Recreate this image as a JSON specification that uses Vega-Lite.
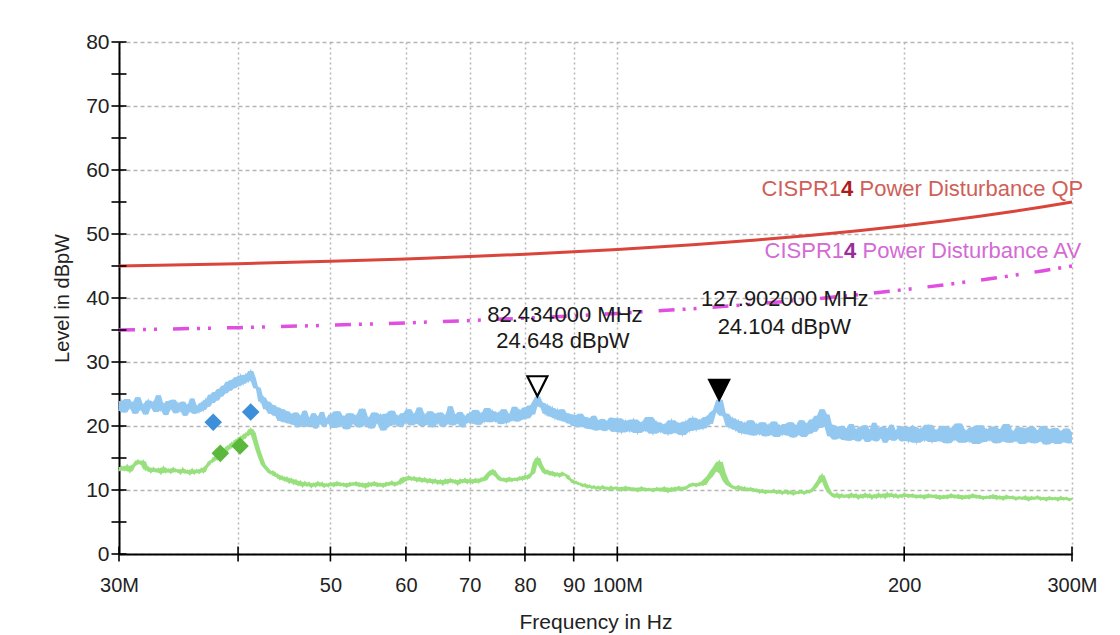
{
"$schema": "https://vega.github.io/schema/vega-lite/v6.json",
"width": 953, "height": 512,
"autosize": {"type": "none"},
"padding": {"left": 119, "top": 42, "right": 48, "bottom": 81},
"background": "white",
"config": {"view": {"stroke": null}, "font": "Liberation Sans", "text": {"font": "Liberation Sans"}},
"datasets": {
"limits": [
{"f":30,"qp":45.0,"avl":35.0},{"f":40,"qp":45.37,"avl":35.37},{"f":50,"qp":45.74,"avl":35.74},{"f":60,"qp":46.11,"avl":36.11},{"f":70,"qp":46.48,"avl":36.48},{"f":80,"qp":46.85,"avl":36.85},{"f":90,"qp":47.22,"avl":37.22},{"f":100,"qp":47.59,"avl":37.59},{"f":120,"qp":48.33,"avl":38.33},{"f":140,"qp":49.07,"avl":39.07},{"f":160,"qp":49.81,"avl":39.81},{"f":180,"qp":50.56,"avl":40.56},{"f":200,"qp":51.3,"avl":41.3},{"f":220,"qp":52.04,"avl":42.04},{"f":240,"qp":52.78,"avl":42.78},{"f":260,"qp":53.52,"avl":43.52},{"f":280,"qp":54.26,"avl":44.26},{"f":300,"qp":55.0,"avl":45.0}
],
"xt": [{"v":30},{"v":40},{"v":50},{"v":60},{"v":70},{"v":80},{"v":90},{"v":100},{"v":200},{"v":300}],
"yt": [{"v":0},{"v":5},{"v":10},{"v":15},{"v":20},{"v":25},{"v":30},{"v":35},{"v":40},{"v":45},{"v":50},{"v":55},{"v":60},{"v":65},{"v":70},{"v":75},{"v":80}],
"trace": [
{"f":30.0,"pk":22.4,"av":13.0},{"f":30.2,"pk":23.9,"av":13.6},{"f":30.4,"pk":22.1,"av":13.1},{"f":30.6,"pk":24.2,"av":13.8},{"f":30.8,"pk":22.8,"av":12.9},{"f":31.0,"pk":23.6,"av":13.7},{"f":31.2,"pk":21.9,"av":14.0},{"f":31.4,"pk":24.5,"av":14.6},{"f":31.6,"pk":22.6,"av":14.1},{"f":31.8,"pk":23.3,"av":14.5},
{"f":32.0,"pk":21.8,"av":13.2},{"f":32.2,"pk":24.0,"av":13.5},{"f":32.4,"pk":22.9,"av":12.8},{"f":32.6,"pk":23.7,"av":13.4},{"f":32.8,"pk":22.2,"av":12.9},{"f":33.0,"pk":24.8,"av":13.3},{"f":33.2,"pk":22.5,"av":12.6},{"f":33.4,"pk":23.4,"av":13.5},{"f":33.6,"pk":21.7,"av":12.8},{"f":33.8,"pk":23.9,"av":13.2},
{"f":34.0,"pk":22.7,"av":12.7},{"f":34.2,"pk":24.1,"av":13.4},{"f":34.4,"pk":22.0,"av":12.9},{"f":34.6,"pk":23.5,"av":13.1},{"f":34.8,"pk":22.4,"av":12.6},{"f":35.0,"pk":23.8,"av":13.3},{"f":35.2,"pk":21.6,"av":12.7},{"f":35.4,"pk":23.2,"av":13.0},{"f":35.6,"pk":22.3,"av":12.5},{"f":35.8,"pk":24.3,"av":13.2},
{"f":36.0,"pk":21.9,"av":12.6},{"f":36.2,"pk":23.1,"av":13.1},{"f":36.4,"pk":22.2,"av":12.7},{"f":36.6,"pk":23.6,"av":13.3},{"f":36.8,"pk":22.5,"av":12.8},{"f":37.0,"pk":24.1,"av":13.6},{"f":37.2,"pk":23.0,"av":13.9},{"f":37.4,"pk":24.9,"av":14.5},{"f":37.6,"pk":23.6,"av":14.4},{"f":37.8,"pk":25.3,"av":15.1},
{"f":38.0,"pk":24.0,"av":14.8},{"f":38.2,"pk":25.8,"av":15.6},{"f":38.4,"pk":24.6,"av":15.4},{"f":38.6,"pk":26.3,"av":16.2},{"f":38.8,"pk":25.1,"av":15.9},{"f":39.0,"pk":26.9,"av":16.8},{"f":39.2,"pk":25.5,"av":16.5},{"f":39.4,"pk":27.2,"av":17.3},{"f":39.6,"pk":25.9,"av":17.0},{"f":39.8,"pk":27.6,"av":17.8},
{"f":40.0,"pk":26.2,"av":17.6},{"f":40.25,"pk":27.9,"av":18.3},{"f":40.5,"pk":26.6,"av":18.0},{"f":40.75,"pk":28.0,"av":18.8},{"f":41.0,"pk":27.0,"av":18.6},{"f":41.25,"pk":28.6,"av":19.5},{"f":41.5,"pk":27.5,"av":18.9},{"f":41.75,"pk":25.9,"av":17.4},{"f":42.0,"pk":26.0,"av":16.1},{"f":42.25,"pk":23.8,"av":15.0},
{"f":42.5,"pk":24.5,"av":14.0},{"f":42.75,"pk":22.6,"av":13.5},{"f":43.0,"pk":23.8,"av":13.1},{"f":43.25,"pk":21.9,"av":12.6},{"f":43.5,"pk":23.3,"av":12.9},{"f":43.75,"pk":21.6,"av":12.2},{"f":44.0,"pk":22.9,"av":12.4},{"f":44.25,"pk":20.8,"av":11.7},{"f":44.5,"pk":22.6,"av":12.1},{"f":44.75,"pk":20.6,"av":11.5},
{"f":45.0,"pk":22.3,"av":11.9},{"f":45.25,"pk":20.4,"av":11.2},{"f":45.5,"pk":21.9,"av":11.7},{"f":45.75,"pk":20.2,"av":11.0},{"f":46.0,"pk":22.1,"av":11.5},{"f":46.25,"pk":19.8,"av":10.8},{"f":46.5,"pk":21.6,"av":11.3},{"f":46.75,"pk":20.1,"av":10.6},{"f":47.0,"pk":22.4,"av":11.2},{"f":47.25,"pk":19.9,"av":10.7},
{"f":47.5,"pk":21.3,"av":11.1},{"f":47.75,"pk":20.0,"av":10.5},{"f":48.0,"pk":22.0,"av":11.0},{"f":48.25,"pk":19.6,"av":10.6},{"f":48.5,"pk":21.5,"av":11.2},{"f":48.75,"pk":20.3,"av":10.7},{"f":49.0,"pk":22.2,"av":11.1},{"f":49.25,"pk":19.9,"av":10.5},{"f":49.5,"pk":21.1,"av":10.9},{"f":49.75,"pk":20.5,"av":10.6},
{"f":50.0,"pk":21.8,"av":11.1},{"f":50.4,"pk":19.7,"av":10.6},{"f":50.8,"pk":22.3,"av":11.2},{"f":51.2,"pk":20.1,"av":10.7},{"f":51.6,"pk":21.4,"av":11.0},{"f":52.0,"pk":19.5,"av":10.5},{"f":52.4,"pk":22.0,"av":11.1},{"f":52.8,"pk":20.4,"av":10.8},{"f":53.2,"pk":21.6,"av":11.2},{"f":53.6,"pk":19.8,"av":10.6},
{"f":54.0,"pk":22.7,"av":11.0},{"f":54.4,"pk":20.2,"av":10.4},{"f":54.8,"pk":21.2,"av":11.1},{"f":55.2,"pk":19.6,"av":10.7},{"f":55.6,"pk":22.1,"av":11.2},{"f":56.0,"pk":20.5,"av":10.6},{"f":56.4,"pk":21.7,"av":11.0},{"f":56.8,"pk":19.3,"av":10.5},{"f":57.2,"pk":21.9,"av":11.1},{"f":57.6,"pk":20.0,"av":10.8},
{"f":58.0,"pk":22.4,"av":11.3},{"f":58.4,"pk":20.3,"av":10.7},{"f":58.8,"pk":21.5,"av":11.2},{"f":59.2,"pk":19.9,"av":11.0},{"f":59.6,"pk":22.0,"av":11.9},{"f":60.0,"pk":20.6,"av":11.5},{"f":60.4,"pk":22.6,"av":12.1},{"f":60.8,"pk":20.1,"av":11.6},{"f":61.2,"pk":21.8,"av":12.0},{"f":61.6,"pk":20.4,"av":11.4},
{"f":62.0,"pk":22.9,"av":11.9},{"f":62.4,"pk":20.0,"av":11.3},{"f":62.8,"pk":21.7,"av":11.8},{"f":63.2,"pk":20.2,"av":11.2},{"f":63.6,"pk":22.3,"av":11.7},{"f":64.0,"pk":19.8,"av":11.1},{"f":64.4,"pk":21.9,"av":11.6},{"f":64.8,"pk":20.5,"av":11.0},{"f":65.2,"pk":22.1,"av":11.5},{"f":65.6,"pk":19.9,"av":10.9},
{"f":66.0,"pk":21.6,"av":11.6},{"f":66.4,"pk":20.3,"av":11.1},{"f":66.8,"pk":23.1,"av":11.7},{"f":67.2,"pk":20.1,"av":11.2},{"f":67.6,"pk":21.8,"av":11.5},{"f":68.0,"pk":20.4,"av":10.9},{"f":68.4,"pk":22.2,"av":11.6},{"f":68.8,"pk":19.8,"av":11.2},{"f":69.2,"pk":21.5,"av":11.7},{"f":69.6,"pk":20.6,"av":11.1},
{"f":70.0,"pk":22.0,"av":11.6},{"f":70.5,"pk":20.4,"av":11.1},{"f":71.0,"pk":22.5,"av":11.7},{"f":71.5,"pk":20.2,"av":11.2},{"f":72.0,"pk":21.9,"av":11.8},{"f":72.5,"pk":20.7,"av":11.5},{"f":73.0,"pk":22.8,"av":12.2},{"f":73.5,"pk":20.6,"av":12.7},{"f":74.0,"pk":22.3,"av":13.1},{"f":74.5,"pk":20.8,"av":12.4},
{"f":75.0,"pk":22.0,"av":12.0},{"f":75.5,"pk":20.3,"av":11.5},{"f":76.0,"pk":22.6,"av":11.8},{"f":76.5,"pk":20.5,"av":11.3},{"f":77.0,"pk":21.8,"av":11.9},{"f":77.5,"pk":20.9,"av":11.4},{"f":78.0,"pk":23.0,"av":11.8},{"f":78.5,"pk":20.7,"av":11.5},{"f":79.0,"pk":22.4,"av":12.0},{"f":79.5,"pk":21.0,"av":11.6},
{"f":80.0,"pk":22.9,"av":12.2},{"f":80.5,"pk":21.2,"av":11.8},{"f":81.0,"pk":23.2,"av":12.4},{"f":81.5,"pk":21.8,"av":12.6},{"f":82.0,"pk":23.9,"av":14.2},{"f":82.434,"pk":24.6,"av":15.0},{"f":83.0,"pk":23.0,"av":14.0},{"f":83.5,"pk":23.6,"av":13.3},{"f":84.0,"pk":21.9,"av":12.6},{"f":84.5,"pk":23.2,"av":13.0},
{"f":85.0,"pk":21.5,"av":12.4},{"f":85.5,"pk":22.8,"av":12.8},{"f":86.0,"pk":21.2,"av":12.2},{"f":86.5,"pk":22.5,"av":12.6},{"f":87.0,"pk":20.9,"av":12.1},{"f":87.5,"pk":22.6,"av":12.7},{"f":88.0,"pk":20.7,"av":12.4},{"f":88.5,"pk":22.0,"av":12.3},{"f":89.0,"pk":20.4,"av":11.7},{"f":89.5,"pk":21.8,"av":11.6},
{"f":90.0,"pk":20.0,"av":11.1},{"f":90.5,"pk":21.7,"av":11.3},{"f":91.0,"pk":19.8,"av":10.9},{"f":91.5,"pk":21.9,"av":11.0},{"f":92.0,"pk":19.9,"av":10.6},{"f":92.5,"pk":21.4,"av":10.9},{"f":93.0,"pk":19.6,"av":10.4},{"f":93.5,"pk":21.2,"av":10.7},{"f":94.0,"pk":19.5,"av":10.3},{"f":94.5,"pk":21.6,"av":10.6},
{"f":95.0,"pk":19.3,"av":10.2},{"f":95.5,"pk":20.9,"av":10.5},{"f":96.0,"pk":19.4,"av":10.1},{"f":96.5,"pk":21.1,"av":10.6},{"f":97.0,"pk":19.2,"av":10.2},{"f":97.5,"pk":20.8,"av":10.4},{"f":98.0,"pk":19.5,"av":10.0},{"f":98.5,"pk":21.3,"av":10.5},{"f":99.0,"pk":19.1,"av":10.1},{"f":99.5,"pk":20.6,"av":10.4},
{"f":100,"pk":21.2,"av":10.4},{"f":101,"pk":19.0,"av":9.9},{"f":102,"pk":20.8,"av":10.5},{"f":103,"pk":19.2,"av":10.0},{"f":104,"pk":21.0,"av":10.3},{"f":105,"pk":18.9,"av":9.8},{"f":106,"pk":20.5,"av":10.4},{"f":107,"pk":19.3,"av":9.9},{"f":108,"pk":21.4,"av":10.2},{"f":109,"pk":18.8,"av":9.8},
{"f":110,"pk":20.6,"av":10.3},{"f":111,"pk":19.1,"av":9.9},{"f":112,"pk":20.2,"av":10.4},{"f":113,"pk":18.7,"av":9.7},{"f":114,"pk":20.9,"av":10.3},{"f":115,"pk":19.0,"av":9.9},{"f":116,"pk":20.4,"av":10.5},{"f":117,"pk":18.6,"av":10.0},{"f":118,"pk":20.7,"av":10.4},{"f":119,"pk":19.2,"av":10.6},
{"f":120,"pk":21.3,"av":11.0},{"f":121,"pk":19.4,"av":10.6},{"f":122,"pk":20.9,"av":11.1},{"f":123,"pk":19.6,"av":10.8},{"f":124,"pk":21.4,"av":11.6},{"f":125,"pk":20.3,"av":12.1},{"f":126,"pk":22.1,"av":12.9},{"f":127,"pk":22.5,"av":13.6},{"f":127.902,"pk":24.1,"av":14.4},{"f":129,"pk":21.6,"av":12.6},
{"f":130,"pk":21.9,"av":11.4},{"f":131,"pk":19.8,"av":10.8},{"f":132,"pk":21.2,"av":10.5},{"f":133,"pk":19.4,"av":10.2},{"f":134,"pk":20.8,"av":10.6},{"f":135,"pk":18.9,"av":10.0},{"f":136,"pk":20.4,"av":10.4},{"f":137,"pk":18.7,"av":9.9},{"f":138,"pk":20.9,"av":10.3},{"f":139,"pk":18.5,"av":9.8},
{"f":140,"pk":20.2,"av":10.1},{"f":141,"pk":18.8,"av":9.6},{"f":142,"pk":20.6,"av":10.0},{"f":143,"pk":18.4,"av":9.5},{"f":144,"pk":20.1,"av":9.9},{"f":145,"pk":18.6,"av":9.6},{"f":146,"pk":20.7,"av":10.0},{"f":147,"pk":18.3,"av":9.5},{"f":148,"pk":20.0,"av":9.8},{"f":149,"pk":18.7,"av":9.4},
{"f":150,"pk":20.3,"av":9.9},{"f":151,"pk":18.5,"av":9.4},{"f":152,"pk":20.6,"av":9.8},{"f":153,"pk":18.2,"av":9.3},{"f":154,"pk":20.1,"av":9.7},{"f":155,"pk":18.6,"av":9.5},{"f":156,"pk":20.9,"av":9.9},{"f":157,"pk":18.3,"av":9.4},{"f":158,"pk":20.4,"av":9.8},{"f":159,"pk":18.8,"av":9.6},
{"f":160,"pk":21.0,"av":10.0},{"f":161,"pk":19.1,"av":10.3},{"f":162,"pk":21.6,"av":10.9},{"f":163,"pk":19.7,"av":11.5},{"f":164,"pk":22.6,"av":12.3},{"f":165,"pk":19.9,"av":11.3},{"f":166,"pk":21.8,"av":10.3},{"f":167,"pk":18.4,"av":9.6},{"f":168,"pk":20.2,"av":9.3},{"f":169,"pk":17.9,"av":8.9},
{"f":170,"pk":19.8,"av":9.4},{"f":171,"pk":18.1,"av":8.8},{"f":172,"pk":20.0,"av":9.3},{"f":173,"pk":17.8,"av":8.9},{"f":174,"pk":19.6,"av":9.2},{"f":175,"pk":17.7,"av":8.8},{"f":176,"pk":20.3,"av":9.4},{"f":177,"pk":17.9,"av":8.9},{"f":178,"pk":19.5,"av":9.3},{"f":179,"pk":17.6,"av":8.7},
{"f":180,"pk":19.9,"av":9.2},{"f":181,"pk":18.0,"av":8.8},{"f":182,"pk":20.1,"av":9.4},{"f":183,"pk":17.5,"av":8.9},{"f":184,"pk":19.4,"av":9.3},{"f":185,"pk":17.8,"av":8.7},{"f":186,"pk":20.5,"av":9.2},{"f":187,"pk":17.6,"av":8.8},{"f":188,"pk":19.7,"av":9.4},{"f":189,"pk":18.1,"av":8.9},
{"f":190,"pk":19.9,"av":9.3},{"f":191,"pk":17.4,"av":8.8},{"f":192,"pk":19.6,"av":9.5},{"f":193,"pk":17.9,"av":9.0},{"f":194,"pk":20.2,"av":9.4},{"f":195,"pk":17.7,"av":8.9},{"f":196,"pk":19.3,"av":9.3},{"f":197,"pk":18.0,"av":8.8},{"f":198,"pk":20.0,"av":9.2},{"f":199,"pk":17.6,"av":8.9},
{"f":200,"pk":19.8,"av":9.4},{"f":202,"pk":17.6,"av":8.9},{"f":204,"pk":19.9,"av":9.3},{"f":206,"pk":17.4,"av":8.8},{"f":208,"pk":19.5,"av":9.2},{"f":210,"pk":17.8,"av":8.7},{"f":212,"pk":20.2,"av":9.3},{"f":214,"pk":17.5,"av":8.9},{"f":216,"pk":19.3,"av":9.2},{"f":218,"pk":17.7,"av":8.6},
{"f":220,"pk":20.0,"av":9.1},{"f":222,"pk":17.3,"av":8.7},{"f":224,"pk":19.6,"av":9.3},{"f":226,"pk":17.9,"av":8.8},{"f":228,"pk":20.4,"av":9.2},{"f":230,"pk":17.4,"av":8.6},{"f":232,"pk":19.2,"av":9.1},{"f":234,"pk":17.6,"av":8.7},{"f":236,"pk":19.8,"av":9.3},{"f":238,"pk":17.2,"av":8.8},
{"f":240,"pk":20.1,"av":9.1},{"f":242,"pk":17.5,"av":8.6},{"f":244,"pk":19.4,"av":9.0},{"f":246,"pk":17.8,"av":8.7},{"f":248,"pk":19.9,"av":9.2},{"f":250,"pk":17.3,"av":8.6},{"f":252,"pk":19.5,"av":9.0},{"f":254,"pk":17.6,"av":8.5},{"f":256,"pk":20.3,"av":9.1},{"f":258,"pk":17.4,"av":8.7},
{"f":260,"pk":19.1,"av":9.0},{"f":262,"pk":17.7,"av":8.5},{"f":264,"pk":19.8,"av":8.9},{"f":266,"pk":17.2,"av":8.6},{"f":268,"pk":19.6,"av":9.0},{"f":270,"pk":17.5,"av":8.4},{"f":272,"pk":19.9,"av":8.9},{"f":274,"pk":17.3,"av":8.6},{"f":276,"pk":19.3,"av":9.0},{"f":278,"pk":17.6,"av":8.5},
{"f":280,"pk":20.0,"av":8.8},{"f":282,"pk":17.1,"av":8.4},{"f":284,"pk":19.5,"av":8.9},{"f":286,"pk":17.4,"av":8.5},{"f":288,"pk":19.7,"av":8.8},{"f":290,"pk":17.2,"av":8.4},{"f":292,"pk":19.2,"av":8.9},{"f":294,"pk":17.5,"av":8.5},{"f":296,"pk":19.6,"av":8.8},{"f":298,"pk":17.3,"av":8.4},{"f":300,"pk":19.0,"av":8.7}
],
"diamonds": [
{"f":37.67,"level":20.58,"kind":"pk"},{"f":41.24,"level":22.19,"kind":"pk"},{"f":38.32,"level":15.73,"kind":"av"},{"f":40.19,"level":16.88,"kind":"av"}
],
"markers": [
{"f":82.434,"level":24.648,"kind":"open"},{"f":127.902,"level":24.104,"kind":"filled"}
],
"notes": [
{"f":88.1,"level":36.3,"text":"82.434000 MHz"},{"f":87.7,"level":32.2,"text":"24.648 dBpW"},
{"f":149.9,"level":38.75,"text":"127.902000 MHz"},{"f":149.7,"level":34.4,"text":"24.104 dBpW"}
],
"labels": [
{"f":174.2,"level":55.9,"pre":"CISPR1","mid":"4","post":"Power Disturbance QP","lim":"QP"},
{"f":175.5,"level":46.25,"pre":"CISPR1","mid":"4","post":"Power Disturbance AV","lim":"AV"}
]
},
"layer": [
{
"data": {"name": "limits"},
"mark": {"type": "line", "color": "#d9453b", "strokeWidth": 3},
"encoding": {
"x": {"field": "f", "type": "quantitative", "title": "Frequency in Hz", "scale": {"type": "log", "domain": [30, 300], "nice": false},
 "axis": {"values": [30,40,50,60,70,80,90,100,200,300],
  "labelExpr": "datum.value==30?'30M':datum.value==100?'100M':datum.value==300?'300M':datum.value==40?'':format(datum.value,'d')",
  "labelFlush": false, "labelOverlap": false, "labelFontSize": 20, "labelPadding": 21, "labelColor": "#222",
  "grid": true, "gridDash": [2,3], "gridColor": "#b5b5b5", "gridWidth": 1.5,
  "ticks": false, "tickSize": 0, "domainColor": "#000", "domainWidth": 2,
  "titleFontSize": 21, "titleFontWeight": "normal", "titleColor": "#222",
  "titleX": 476.5, "titleY": 74, "titleBaseline": "alphabetic", "titleAlign": "center"}},
"y": {"field": "qp", "type": "quantitative", "title": "Level in dBpW", "scale": {"domain": [0, 80], "nice": false, "zero": false},
 "axis": {"values": [0,5,10,15,20,25,30,35,40,45,50,55,60,65,70,75,80],
  "labelExpr": "datum.value%10==0?format(datum.value,'d'):''",
  "labelFontSize": 21, "labelPadding": 10, "labelColor": "#222", "labelFlush": false,
  "grid": true, "gridDash": [4,3], "gridColor": "#b5b5b5", "gridWidth": 1.5,
  "ticks": false, "tickSize": 0, "domainColor": "#000", "domainWidth": 2,
  "titleFontSize": 20, "titleFontWeight": "normal", "titleColor": "#222",
  "titleX": -57, "titleY": 256, "titleAngle": -90, "titleBaseline": "middle", "titleAlign": "center"}}
}
},
{
"data": {"name": "limits"},
"mark": {"type": "line", "color": "#e04fe0", "strokeWidth": 3.5, "strokeDash": [16,8,3,8,3,16]},
"encoding": {
"x": {"field": "f", "type": "quantitative", "title": "Frequency in Hz"},
"y": {"field": "avl", "type": "quantitative", "title": "Level in dBpW"}
}
},
{
"data": {"name": "xt"},
"mark": {"type": "tick", "orient": "vertical", "size": 15, "thickness": 1.6, "color": "#000", "opacity": 1},
"encoding": {
"x": {"field": "v", "type": "quantitative", "title": "Frequency in Hz"},
"y": {"datum": 0, "type": "quantitative", "title": "Level in dBpW"}
}
},
{
"data": {"name": "yt"},
"mark": {"type": "tick", "orient": "horizontal", "size": 15, "thickness": 1.6, "color": "#000", "opacity": 1},
"encoding": {
"x": {"datum": 30, "type": "quantitative", "title": "Frequency in Hz"},
"y": {"field": "v", "type": "quantitative", "title": "Level in dBpW"}
}
},
{
"data": {"name": "trace"},
"transform": [{"window": [{"op": "max", "field": "pk", "as": "hi"}, {"op": "min", "field": "pk", "as": "lo"}], "frame": [-1, 1], "sort": [{"field": "f"}]}],
"mark": {"type": "area", "color": "#93c8f0", "opacity": 1},
"encoding": {
"x": {"field": "f", "type": "quantitative", "title": "Frequency in Hz"},
"y": {"field": "hi", "type": "quantitative", "title": "Level in dBpW"},
"y2": {"field": "lo"}
}
},
{
"data": {"name": "trace"},
"transform": [{"window": [{"op": "max", "field": "av", "as": "hi"}, {"op": "min", "field": "av", "as": "lo"}], "frame": [-1, 1], "sort": [{"field": "f"}]}],
"mark": {"type": "area", "color": "#98e07e", "opacity": 1},
"encoding": {
"x": {"field": "f", "type": "quantitative", "title": "Frequency in Hz"},
"y": {"field": "hi", "type": "quantitative", "title": "Level in dBpW"},
"y2": {"field": "lo"}
}
},
{
"data": {"name": "trace"},
"mark": {"type": "line", "color": "#93c8f0", "strokeWidth": 1.4},
"encoding": {
"x": {"field": "f", "type": "quantitative", "title": "Frequency in Hz"},
"y": {"field": "pk", "type": "quantitative", "title": "Level in dBpW"}
}
},
{
"data": {"name": "trace"},
"mark": {"type": "line", "color": "#98e07e", "strokeWidth": 2},
"encoding": {
"x": {"field": "f", "type": "quantitative", "title": "Frequency in Hz"},
"y": {"field": "av", "type": "quantitative", "title": "Level in dBpW"}
}
},
{
"data": {"name": "diamonds"},
"mark": {"type": "point", "shape": "diamond", "filled": true, "size": 310, "opacity": 1},
"encoding": {
"x": {"field": "f", "type": "quantitative", "title": "Frequency in Hz"},
"y": {"field": "level", "type": "quantitative", "title": "Level in dBpW"},
"color": {"field": "kind", "type": "nominal", "scale": {"domain": ["pk","av"], "range": ["#3d8fd9","#5cb83c"]}, "legend": null}
}
},
{
"data": {"name": "markers"},
"mark": {"type": "point", "shape": "M-1,-2L1,-2L0,0Z", "filled": true, "size": 400, "stroke": "#000", "strokeWidth": 2.2, "opacity": 1},
"encoding": {
"x": {"field": "f", "type": "quantitative", "title": "Frequency in Hz"},
"y": {"field": "level", "type": "quantitative", "title": "Level in dBpW"},
"fill": {"condition": {"test": "datum.kind=='open'", "value": "#ffffff"}, "value": "#000000"}
}
},
{
"data": {"name": "notes"},
"mark": {"type": "text", "fontSize": 22, "align": "center", "baseline": "alphabetic", "color": "#1a1a1a"},
"encoding": {
"x": {"field": "f", "type": "quantitative", "title": "Frequency in Hz"},
"y": {"field": "level", "type": "quantitative", "title": "Level in dBpW"},
"text": {"field": "text"}
}
},
{
"data": {"name": "labels"},
"mark": {"type": "text", "fontSize": 22, "align": "right", "baseline": "alphabetic", "dx": -6},
"encoding": {
"x": {"field": "f", "type": "quantitative", "title": "Frequency in Hz"},
"y": {"field": "level", "type": "quantitative", "title": "Level in dBpW"},
"text": {"field": "pre"},
"fill": {"condition": {"test": "datum.lim=='QP'", "value": "#cf5f58"}, "value": "#d46ad4"}
}
},
{
"data": {"name": "labels"},
"mark": {"type": "text", "fontSize": 22, "fontWeight": "bold", "align": "center", "baseline": "alphabetic"},
"encoding": {
"x": {"field": "f", "type": "quantitative", "title": "Frequency in Hz"},
"y": {"field": "level", "type": "quantitative", "title": "Level in dBpW"},
"text": {"field": "mid"},
"fill": {"condition": {"test": "datum.lim=='QP'", "value": "#b01a1a"}, "value": "#9b2b9b"}
}
},
{
"data": {"name": "labels"},
"mark": {"type": "text", "fontSize": 22, "align": "left", "baseline": "alphabetic", "dx": 12.5},
"encoding": {
"x": {"field": "f", "type": "quantitative", "title": "Frequency in Hz"},
"y": {"field": "level", "type": "quantitative", "title": "Level in dBpW"},
"text": {"field": "post"},
"fill": {"condition": {"test": "datum.lim=='QP'", "value": "#cf5f58"}, "value": "#d46ad4"}
}
}
]
}
